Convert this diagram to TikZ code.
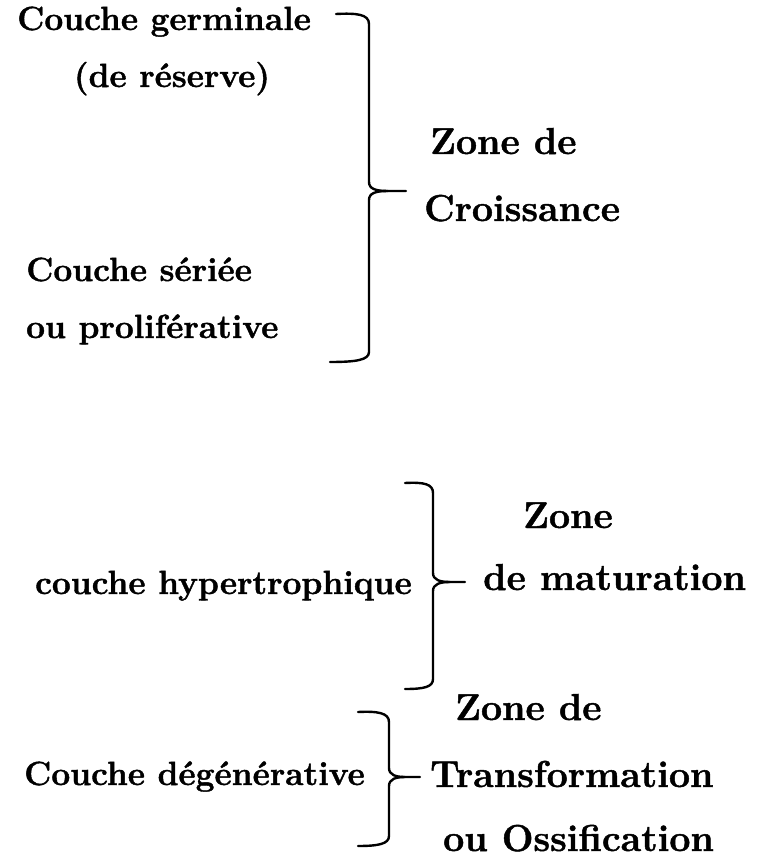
\documentclass[tikz,border=0pt]{standalone}
\usepackage{fontspec}
\setmainfont{Latin Modern Roman}[BoldFeatures={FakeBold=1.2}]
\begin{document}
\begin{tikzpicture}[x=1pt,y=-1pt,
  small/.style={font=\fontsize{33.5}{40}\selectfont\bfseries, inner sep=0pt, anchor=base west},
  big/.style={font=\fontsize{37.5}{44}\selectfont\bfseries, inner sep=0pt, anchor=base west},
  bracestroke/.style={line width=2.4pt, line join=round, line cap=round}]
\useasboundingbox[fill=white] (0,0) rectangle (764,858);

% texts
\node[small] (g1) at (17,30) {Couche germinale};
\node[small, anchor=base] (g2) at (172,87) {(de réserve)};
\node[small] (s1) at (26,281) {Couche sériée};
\node[small] (s2) at (26,338) {ou proliférative};
\node[big] (z1) at (430,154) {Zone de};
\node[big] (z2) at (424,221) {Croissance};

\node[small] (h) at (35,594) {couche hypertrophique};
\node[big] (m1) at (523,528) {Zone};
\node[big] (m2) at (483,590) {de maturation};

\node[small, anchor=base east] (d) at (365,785) {Couche dégénérative};
\node[big] (t1) at (455,720) {Zone de};
\node[big] (t2) at (430,787) {Transformation};
\node[big] (t3) at (443,851) {ou Ossification};

% brace 1
\coordinate (b1top) at (336,14);
\coordinate (b1tip) at (406,191);
\coordinate (b1bot) at (330,362);
\draw[bracestroke] (b1top) .. controls (356,13) and (369,14) .. (369,24)
  -- (369,182) .. controls (369,189) and (376,191) .. (388,191) -- (b1tip);
\draw[bracestroke] (388,191) .. controls (376,191) and (369,193) .. (369,200)
  -- (369,352) .. controls (369,360) and (356,362) .. (b1bot);

% brace 2
\coordinate (b2top) at (405,483);
\coordinate (b2tip) at (465,582);
\coordinate (b2bot) at (405,689);
\draw[bracestroke] (b2top) .. controls (424,482) and (433,484) .. (433,493)
  -- (433,573) .. controls (433,580) and (440,582) .. (450,582) -- (b2tip);
\draw[bracestroke] (450,582) .. controls (440,582) and (433,584) .. (433,591)
  -- (433,679) .. controls (433,687) and (424,689) .. (b2bot);

% brace 3
\coordinate (b3top) at (358,712);
\coordinate (b3tip) at (420,777);
\coordinate (b3bot) at (358,846);
\draw[bracestroke] (b3top) .. controls (378,711) and (389,713) .. (389,722)
  -- (389,768) .. controls (389,775) and (396,777) .. (405,777) -- (b3tip);
\draw[bracestroke] (405,777) .. controls (396,777) and (389,779) .. (389,786)
  -- (389,836) .. controls (389,844) and (378,846) .. (b3bot);
\end{tikzpicture}
\end{document}
